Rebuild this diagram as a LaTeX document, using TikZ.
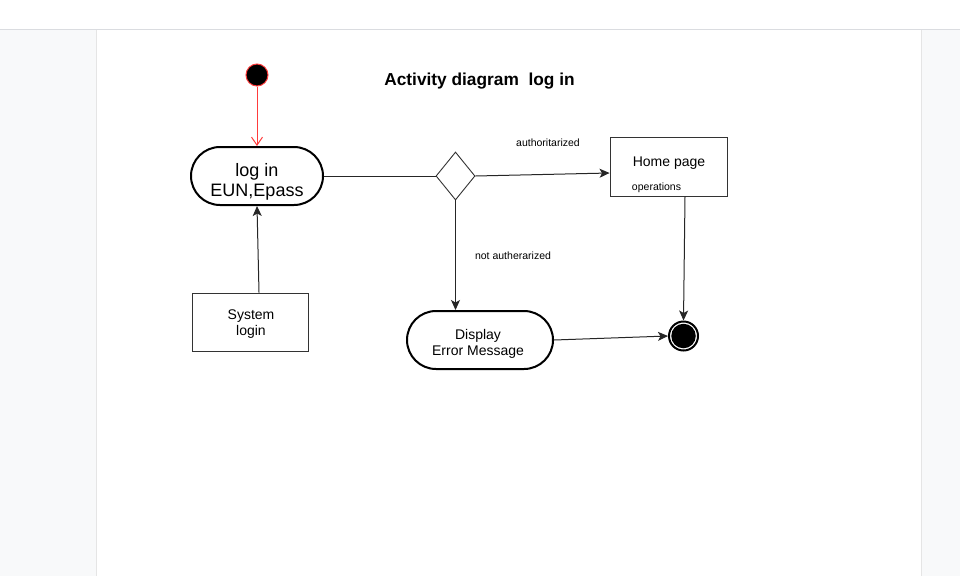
\documentclass[tikz,border=0pt]{standalone}
\usepackage{fontspec}
\setmainfont{Liberation Sans}
\usetikzlibrary{shapes,arrows.meta}
\definecolor{pagegray}{HTML}{F8F9FA}
\definecolor{rulegray}{HTML}{DADCE0}
\definecolor{startred}{HTML}{FF3B3B}

\begin{document}
\begin{tikzpicture}[x=1pt,y=-1pt]
    \tikzstyle{every node}=[inner sep=0pt, font=\fontsize{14}{16}\selectfont]
    \tikzstyle{action}=[rounded rectangle, draw, line width=2pt]
    \tikzstyle{plainbox}=[rectangle, draw=black!80, line width=0.9pt]
    \tikzstyle{caption}=[align=center]
    \tikzstyle{flow}=[draw=black!85, line width=1pt, -{Stealth[length=10pt,width=9pt,inset=2.5pt]}]
    \tikzstyle{guard}=[font=\fontsize{10.5}{12}\selectfont]
    % page background
    \useasboundingbox (0,0) rectangle (960,576);
    \fill[pagegray] (0,30) rectangle (960,576);
    \fill[white] (97,30) rectangle (921,576);
    \draw[rulegray, line width=1.2pt] (0,29.5) -- (960,29.5);
    \draw[black!10, line width=1pt] (96.5,30) -- (96.5,576);
    \draw[black!10, line width=1pt] (921.5,30) -- (921.5,576);
    % title
    \node (title) at (479.5,81.5) {\fontsize{17.3}{20}\selectfont\bfseries Activity diagram\ \ log in};
    % states
    \node[circle, fill=black, draw=startred, line width=1pt, minimum size=22pt] (start) at (257,75) {};
    \node[action, minimum width=132pt, minimum height=58pt] (login) at (257,176) {};
    \node[caption, font=\fontsize{18}{19.5}\selectfont] (logintxt) at (257,182) {log in\\EUN,Epass};
    \node[diamond, draw=black!80, line width=0.9pt, minimum width=39pt, minimum height=48pt, aspect=0.8] (check) at (455.5,176) {};
    \node[plainbox, minimum width=117pt, minimum height=59pt] (home) at (668.5,166.5) {};
    \node (hometxt) at (669,163.5) {Home page};
    \node[guard] (ops) at (656.5,187.5) {operations};
    \node[plainbox, minimum width=116pt, minimum height=58pt] (sys) at (250,322) {};
    \node[caption] (systxt) at (251,324.5) {System\\login};
    \node[action, minimum width=146pt, minimum height=58pt] (error) at (480,340) {};
    \node[caption] (errortxt) at (478,344) {Display\\Error Message};
    \node[circle, draw=black, line width=2pt, minimum size=29pt] (final) at (683.5,336) {};
    \node[circle, fill=black, minimum size=24.5pt] (finalin) at (683.5,336) {};
    % guards
    \node[guard] (okl) at (548,143) {authoritarized};
    \node[guard] (nol) at (513,256) {not autherarized};
    % flows
    \draw[startred, line width=1pt, -{Straight Barb[length=8pt,width=11pt]}] (start) -- (login);
    \draw[draw=black!85, line width=1pt] (login.east) -- (check.west);
    \draw[flow] (check.east) -- (home.west |- 0,173);
    \draw[flow] (check.south) -- (error.north -| check.south);
    \draw[flow] (home.south -| 685,0) -- (final.north);
    \draw[flow] (error.east) -- (final.west);
    \draw[flow] (sys.north -| 259,0) -- (login.south);
\end{tikzpicture}
\end{document}
